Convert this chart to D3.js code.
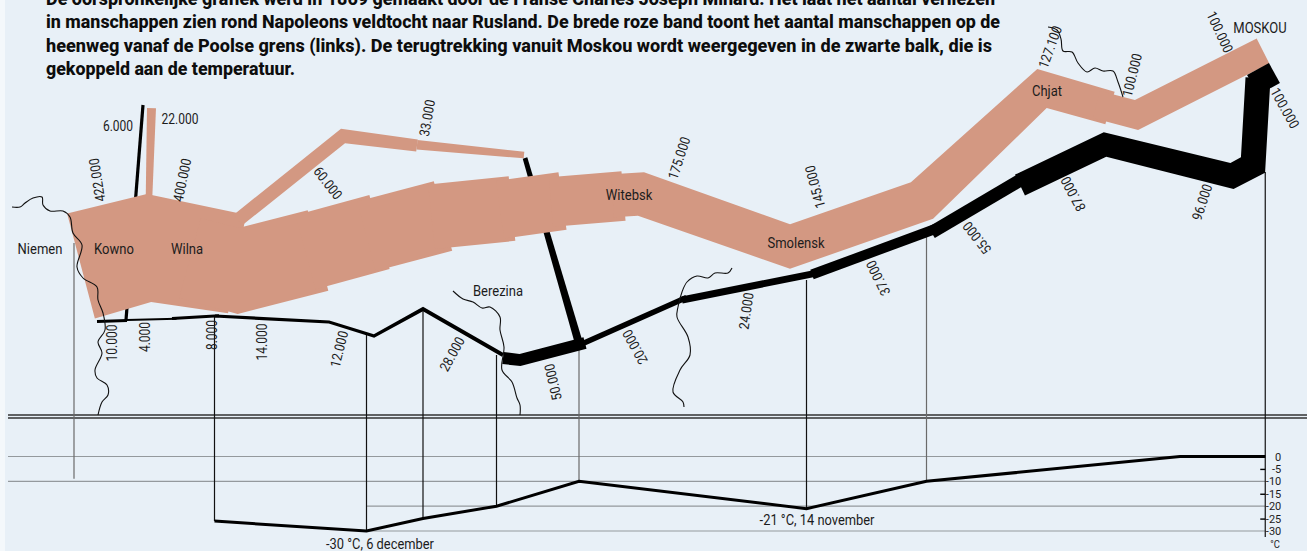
<!DOCTYPE html>
<html>
<head>
<meta charset="utf-8">
<title>Minard</title>
<script src="https://cdn.jsdelivr.net/npm/d3@7"></script>
<style>
html, body { margin: 0; padding: 0; background: #f4f8fb; }
svg { display: block; }
text { font-family: "Liberation Sans Narrow", "Roboto", sans-serif; fill: #1c1c1c; }
</style>
</head>
<body>
<svg></svg>
<script>
// all route values: [km east of the Niemen, km north of the base line, troops]
// troops without a printed label are estimated from the band thickness

var advanceMain = [[5.6,123.2,422000],[60,137.6,410000],[130.4,124.8,390000]]
var advanceAfterBranch = [[92.8,129.6,326000],[131.2,119.2,326000],[195.2,135.6,326000]]
var advanceStep2 = [[185.2,134.2,302000],[244.4,150.4,302000]]
var advanceStep3 = [[233.9,147,284000],[295.2,163.2,284000]]
var advanceStep4 = [[286,162.6,258000],[350.4,169.2,258000]]
var advanceStep5 = [[340.9,168.2,232000],[390.8,175.2,232000]]
var advanceStep6 = [[381.6,174.4,200000],[439.6,179.2,200000]]
var advanceToChjat = [[430.8,179.4,175000],[453.6,180.8,175000],[572.8,138.8,145000],[678.4,175.6,145000],[774.4,265.2,127100],[828.8,249.6,122000]]
var advanceToMoscow = [[818,252.4,100000],[850,244,100000],[951.2,295.2,100000]]
var northBranch = [[131.2,160,60000],[215.2,227.2,60000],[274.4,219.6,50000]]
var northBranch2 = [[274.4,220.2,33000],[360,212,16000]]
var stemBranch = [[60,177.6,16000],[62,249.6,22000]]

var retreatStub = [[947.2,280.8,100000],[956,264.8,100000]]
var retreatFromMoscow = [[947.2,273.6,100000],[943.2,204,100000],[926.4,195.2,96000],[824.8,220.4,87000],[756.8,188,87000]]
var retreat55 = [[760,193.6,55000],[686,150,55000]]
var retreat37 = [[690,153.2,37000],[590.4,116.4,37000]]
var retreat24 = [[596,117.9,24000],[486.4,96,24000]]
var retreat20 = [[490,98,20000],[408,61.6,20000]]
var retreat50 = [[408.8,61.6,50000],[356.8,48,50000],[343.2,49.6,50000]]
var retreat28 = [[343.2,52,28000],[279.2,88.8,28000],[240,67.2,12000],[204,78.4,12000],[112.8,83.2,14000]]
var retreat8 = [[116,83.4,8000],[78.4,81.2,8000]]
var retreat4 = [[82,81,4000],[42.4,80,4000]]
var retreat10 = [[42.4,79.6,10000],[18.4,78.8,10000]]
var retreatStem = [[55.2,252,6000],[41.6,80,6000]]
var retreatNorth = [[360.8,209.6,18000],[403.2,64,34000]]

var riverNiemen = [[-49.6,170.4],[-43.2,170.4],[-39.2,173.6],[-32.8,177.6],[-25.6,178.4],[-24.8,172],[-19.2,167.2],[-8.8,167.2],[-3.2,162.4],[-0.8,149.6],[6.4,140],[2.4,122.4],[7.2,113.6],[18.4,106.4],[19.2,96],[23.2,85.6],[24.8,72],[19.2,62.4],[22.4,53.6],[16.8,40],[18.4,33.6],[26.4,28],[27.2,20],[22.4,14.4],[19.2,4]]
var riverBerezina = [[303.2,103.2],[311.2,96.8],[319.2,94.4],[326.4,89.6],[332.8,90.4],[340.8,82.4],[340.8,72],[344,58.4],[342.4,40],[350.4,30.4],[354.4,17.6],[356.8,12],[356.8,4]]
var riverWop = [[526.4,121.6],[523.2,117.6],[512.8,117.6],[507.2,113.6],[498.4,115.2],[490.4,110.4],[486.4,102.4],[483.2,90.4],[482.4,82.4],[491.2,66.4],[492.8,52],[484.8,40],[479.2,22.4],[487.2,14.4],[488,10.4]]
var riverKolocha = [[779.2,314.4],[786.4,312],[789.6,304.8],[791.2,295.2],[798.4,294.4],[803.2,285.6],[810.4,278.4],[816.8,281.6],[823.2,279.2],[831.2,279.2],[835.2,270.4],[839.2,258.4]]

// temperature on the way back, Moscow first
var tempKm = [953,884.8,682,586,404,338,279.2,234,112.4]
var tempValues = [0,0,-10,-21,-10,-20,-25,-30,-26]

// guides from the route down to the temperature panel: km east, km north, temp at foot
var guideKm = [0,112.4,234,279.2,338,404,586,682,953]
var guideNorth = [141.6,83.2,68,88.8,52,60,112,146.4,198.4]
var guideFoot = [-9,-26,-30,-25,-20,-10,-21,-10,-32.4]
var guideGrey = [true,false,false,false,false,true,false,true,false]

var tempGridLong = [0,-10]
var tempGridShort = [-20,-30]
var tempTicks = [0,-5,-10,-15,-20,-25,-30]
var tempMinor = [-5,-15,-25]

var troopLabels = ["6.000","22.000","422.000","400.000","60.000","33.000","175.000","145.000","127.100","100.000","100.000","100.000","96.000","87.000","55.000","37.000","24.000","20.000","50.000","28.000","12.000","14.000","8.000","4.000","10.000"]
var placeLabels = ["Niemen","Kowno","Wilna","Berezina","Witebsk","Smolensk","Chjat","MOSKOU"]
var tempLabels = ["-30 °C, 6 december","-21 °C, 14 november"]
var titleLines = [
    "De oorspronkelijke grafiek werd in 1869 gemaakt door de Franse Charles Joseph Minard. Het laat het aantal verliezen",
    "in manschappen zien rond Napoleons veldtocht naar Rusland. De brede roze band toont het aantal manschappen op de",
    "heenweg vanaf de Poolse grens (links). De terugtrekking vanuit Moskou wordt weergegeven in de zwarte balk, die is",
    "gekoppeld aan de temperatuur."
]

// layout only below this line
var screen = {width: 1307, height: 551}
var colors = {panel: "#e8f0f7", band: "#d39882", black: "#000", grid: "#94999d", guideGrey: "#6a6a6a"}

var troopLabelAt = [[118,126,0],[180,119,0],[97,180,-99],[182,180,-78],[328,183,52],[427,118,-80],[679,158,-72],[815,187,-105],[1050,47,-70],[1132,75,-76],[1220,32,65],[1285,108,61],[1202,202,-72],[1073,194,-118],[977,238,-128],[878,278,-116],[746,311,-82],[635,347,-119],[553,382,-103],[452,354,-61],[339,349,-76],[262,342,-90],[212,335,-90],[145,337,-90],[112,343,-90]]
var placeLabelAt = [[40,249],[114,249],[187,249],[498,291],[629,195],[796,243],[1047,91],[1260,28]]
var tempLabelAt = [[380,544],[817,520]]
var titleAt = [[46,5,949],[46,28,954],[46,52,946],[46,75,249]]

var xKm = d3.scaleLinear().domain([0,953]).range([74,1265.25])
var yKm = d3.scaleLinear().domain([0,336]).range([420,0])
var yTemp = d3.scaleLinear().domain([0,-30]).range([456.5,531])

// printed bands are not quite proportional, so the width scales have several breakpoints
var advanceWidth = d3.scaleLinear()
    .domain([0,22000,33000,60000,100000,127100,145000,175000,422000])
    .range([0,9,9.5,13.7,28,35,42,43,108.5])
var retreatWidth = d3.scaleLinear()
    .domain([0,4000,6000,14000,20000,24000,28000,37000,50000,55000,87000,100000])
    .range([0,2,3.2,3.2,5.5,7,4,10,12,13,23,25])

var svg = d3.select("svg")
    .attr("width", screen.width)
    .attr("height", screen.height)

svg.append("rect")
    .attr("x", 5)
    .attr("width", screen.width - 5)
    .attr("height", screen.height)
    .attr("fill", colors.panel)

// ribbon outline: offsets each stop along the mitred normal
var ribbon = function(stops, widthScale)
{
    var pts = stops.map(function(s)
    {
        return [xKm(s[0]), yKm(s[1]), widthScale(s[2]) / 2]
    })
    var unit = function(a, b)
    {
        var dx = b[0] - a[0], dy = b[1] - a[1], len = Math.sqrt(dx * dx + dy * dy)
        return [dx / len, dy / len]
    }
    var left = [], right = []
    pts.forEach(function(p, i)
    {
        var d1 = unit(pts[Math.max(i - 1, 0)], pts[Math.max(i, 1)])
        var d2 = unit(pts[Math.min(i, pts.length - 2)], pts[Math.min(i + 1, pts.length - 1)])
        var mid = unit([0, 0], [d1[0] + d2[0], d1[1] + d2[1]])
        var n = [-mid[1], mid[0]]
        var m = p[2] / (n[0] * -d1[1] + n[1] * d1[0])
        left.push([p[0] + n[0] * m, p[1] + n[1] * m])
        right.push([p[0] - n[0] * m, p[1] - n[1] * m])
    })
    return d3.line()(left.concat(right.reverse())) + "Z"
}

var drawBands = function(runs, widthScale, color)
{
    svg.append("g").selectAll("path")
        .data(runs)
        .enter()
        .append("path")
        .attr("d", function(run) {return ribbon(run, widthScale)})
        .attr("fill", color)
}

// double line under the map
svg.append("g").selectAll("line")
    .data([4,1.6])
    .enter()
    .append("line")
    .attr("x1", 8)
    .attr("x2", screen.width)
    .attr("y1", function(d) {return yKm(d)})
    .attr("y2", function(d) {return yKm(d)})
    .attr("stroke", "#333")
    .attr("stroke-width", 1.3)

// temperature grid
var grid = svg.append("g")
grid.selectAll(".long")
    .data(tempGridLong)
    .enter()
    .append("line")
    .attr("class", "long")
    .attr("x1", 8)
    .attr("x2", xKm(953))
    .attr("y1", function(d) {return yTemp(d)})
    .attr("y2", function(d) {return yTemp(d)})
    .attr("stroke", colors.grid)
    .attr("stroke-width", 1.2)
grid.selectAll(".short")
    .data(tempGridShort)
    .enter()
    .append("line")
    .attr("class", "short")
    .attr("x1", xKm(234))
    .attr("x2", xKm(953))
    .attr("y1", function(d) {return yTemp(d)})
    .attr("y2", function(d) {return yTemp(d)})
    .attr("stroke", colors.grid)
    .attr("stroke-width", 1.2)

// guides
svg.append("g").selectAll("line")
    .data(guideKm)
    .enter()
    .append("line")
    .attr("x1", function(d) {return xKm(d)})
    .attr("x2", function(d) {return xKm(d)})
    .attr("y1", function(d, i) {return yKm(guideNorth[i])})
    .attr("y2", function(d, i) {return yTemp(guideFoot[i])})
    .attr("stroke", function(d, i) {return guideGrey[i] ? colors.guideGrey : "#111"})
    .attr("stroke-width", 1.2)

// black runs first: the pink band hides them where they cross
drawBands([retreatStem, retreatNorth], retreatWidth, colors.black)
drawBands([advanceMain, advanceAfterBranch, advanceStep2, advanceStep3, advanceStep4, advanceStep5, advanceStep6, advanceToChjat, advanceToMoscow, northBranch, northBranch2, stemBranch], advanceWidth, colors.band)
drawBands([retreatStub, retreatFromMoscow, retreat55, retreat37, retreat24, retreat20, retreat50, retreat28, retreat8, retreat4, retreat10], retreatWidth, colors.black)

// rivers
var riverLine = d3.line()
    .x(function(d) {return xKm(d[0])})
    .y(function(d) {return yKm(d[1])})
    .curve(d3.curveCatmullRom)

svg.append("g").selectAll("path")
    .data([riverNiemen, riverBerezina, riverWop, riverKolocha])
    .enter()
    .append("path")
    .attr("d", riverLine)
    .attr("fill", "none")
    .attr("stroke", "#111")
    .attr("stroke-width", 1.1)

// temperature line
var tempLine = d3.line()
    .x(function(d) {return xKm(d)})
    .y(function(d, i) {return yTemp(tempValues[i])})

svg.append("path")
    .attr("d", tempLine(tempKm))
    .attr("fill", "none")
    .attr("stroke", colors.black)
    .attr("stroke-width", 3)

// temperature axis
var axisLabels = svg.append("g")
    .attr("transform", "translate(" + xKm(953) + ",0)")
    .call(d3.axisRight(yTemp).tickValues(tempTicks).tickSize(0).tickFormat(function(d) {return d}))
axisLabels.select(".domain").remove()
axisLabels.selectAll("text")
    .attr("x", 16)
    .attr("text-anchor", "end")
    .style("font-family", "\"Liberation Sans Narrow\", \"Roboto\", sans-serif")
    .style("font-size", "11px")
    .attr("fill", "#1c1c1c")

var axisMinor = svg.append("g")
    .attr("transform", "translate(" + xKm(953) + ",0)")
    .call(d3.axisLeft(yTemp).tickValues(tempMinor).tickSize(5).tickFormat(""))
axisMinor.select(".domain").remove()
axisMinor.selectAll("line").attr("stroke", "#000").attr("stroke-width", 1.4)

svg.append("text")
    .attr("transform", "translate(1275,548) scale(0.86,1)")
    .attr("text-anchor", "middle")
    .style("font-size", "11px")
    .text("°C")

// rotated, squeezed labels
var drawLabels = function(labels, places, squeeze)
{
    svg.append("g").selectAll("text")
        .data(labels)
        .enter()
        .append("text")
        .attr("transform", function(d, i)
        {
            var p = places[i]
            return "translate(" + p[0] + "," + p[1] + ") rotate(" + (p[2] || 0) + ") scale(" + squeeze + ",1)"
        })
        .attr("text-anchor", "middle")
        .attr("dy", "0.36em")
        .style("font-size", "14px")
        .text(function(d) {return d})
}

drawLabels(troopLabels, troopLabelAt, 0.86)
drawLabels(placeLabels, placeLabelAt, 0.93)
drawLabels(tempLabels, tempLabelAt, 0.92)

// title
svg.append("g").selectAll("text")
    .data(titleLines)
    .enter()
    .append("text")
    .attr("x", function(d, i) {return titleAt[i][0]})
    .attr("y", function(d, i) {return titleAt[i][1]})
    .attr("textLength", function(d, i) {return titleAt[i][2]})
    .attr("lengthAdjust", "spacingAndGlyphs")
    .style("font-size", "19px")
    .style("font-weight", "800")
    .style("fill", "#0d0d0d")
    .text(function(d) {return d})
</script>
</body>
</html>
